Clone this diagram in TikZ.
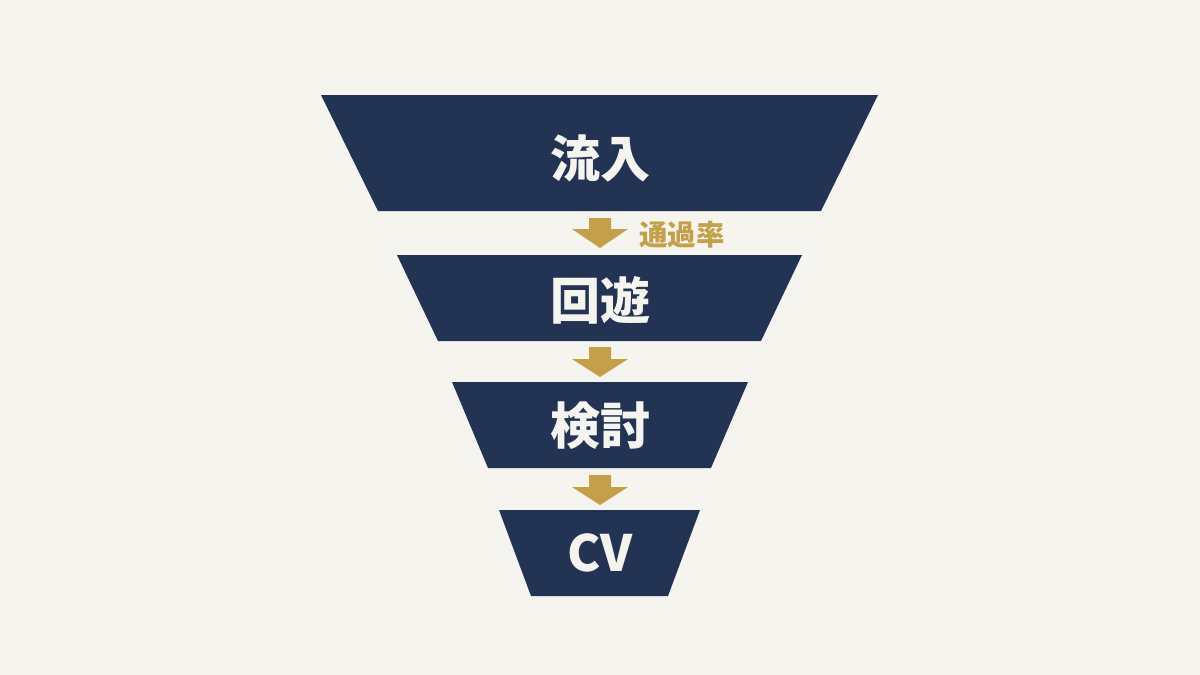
\documentclass[tikz,border=0pt]{standalone}
\usepackage{fontspec}
\newfontfamily\cjk{Noto Sans CJK JP}
\definecolor{bgc}{HTML}{F5F4EF}
\definecolor{navy}{HTML}{233354}
\definecolor{gold}{HTML}{C4A04B}
\begin{document}
\begin{tikzpicture}[x=1pt,y=-1pt,
  band/.style={fill=navy},
  lbl/.style={text=bgc,font=\cjk\bfseries\fontsize{50}{50}\selectfont,inner sep=0pt},
  downarrow/.style={fill=gold},
  rate/.style={text=gold,font=\cjk\bfseries\fontsize{28.5}{28.5}\selectfont,inner sep=0pt,anchor=west}]
\fill[bgc] (0,0) rectangle (1200,675);
\useasboundingbox (0,0) rectangle (1200,675);
% funnel bands
\fill[band] (321,95) -- (878,95) -- (821,211) -- (378,211) -- cycle;
\fill[band] (397,255) -- (802,255) -- (761,341) -- (438,341) -- cycle;
\fill[band] (452,382) -- (748,382) -- (711,468) -- (488,468) -- cycle;
\fill[band] (499,510) -- (700,510) -- (668,596) -- (531,596) -- cycle;
% labels
\node[lbl] (s1) at (600,158) {流入};
\node[lbl] (s2) at (600,300) {回遊};
\node[lbl] (s3) at (600,426) {検討};
\node[lbl] (s4) at (600,553) {CV};
% arrows
\fill[downarrow] (589,218) -- (611,218) -- (611,229) -- (628,229) -- (600,248) -- (572,229) -- (589,229) -- cycle;
\fill[downarrow] (589,347) -- (611,347) -- (611,359) -- (628,359) -- (600,377) -- (572,359) -- (589,359) -- cycle;
\fill[downarrow] (589,475) -- (611,475) -- (611,487) -- (628,487) -- (600,505) -- (572,487) -- (589,487) -- cycle;
\node[rate] (r1) at (639,235) {通過率};
\end{tikzpicture}
\end{document}
